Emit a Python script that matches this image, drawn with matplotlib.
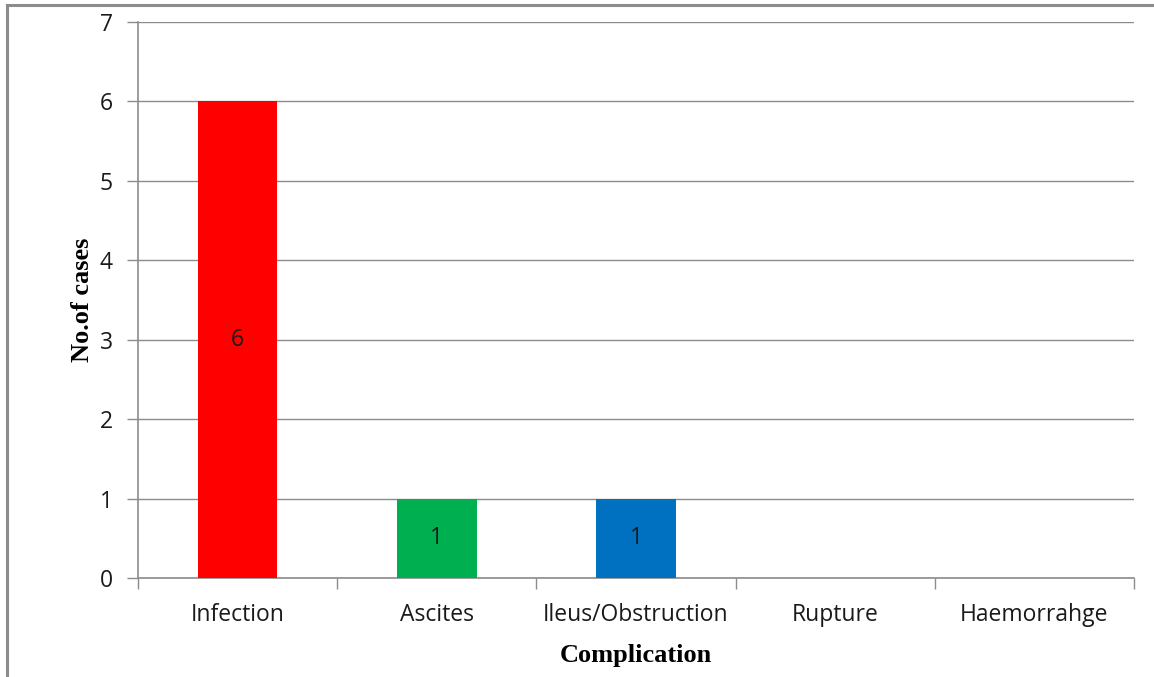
import numpy as np
import matplotlib.pyplot as plt
from matplotlib.lines import Line2D

categories = ["Infection", "Ascites", "Ileus/Obstruction", "Rupture", "Haemorrahge"]
cases = [6, 1, 1, 0, 0]
colors = ["#FF0000", "#00B050", "#0070C0", "#4F81BD", "#4F81BD"]

fig = plt.figure(figsize=(11.54, 6.77), dpi=100)
ax = fig.add_axes([138 / 1154, 1 - 578 / 677, (1134 - 138) / 1154, (578 - 22) / 677])

x = np.arange(len(categories))
for xi, v, c in zip(x, cases, colors):
    if v > 0:
        ax.bar(xi, v, width=0.4, color=c, zorder=3)
        ax.text(xi, v / 2, str(v), ha="center", va="center", fontsize=16.5,
                family="Open Sans", color="#1a1a1a", zorder=4)

ax.set_xlim(-0.5, len(categories) - 0.5)
ax.set_ylim(0, 7)
ax.set_yticks(range(0, 8))
ax.yaxis.grid(True, color="#8c8c8c", linewidth=1, zorder=0)
ax.set_axisbelow(True)

ax.set_xticks(x)
ax.set_xticklabels(categories)
ax.set_xticks(np.arange(-0.5, len(categories)), minor=True)
ax.tick_params(axis="x", which="major", length=0, pad=18)
ax.tick_params(axis="x", which="minor", length=8, color="#8c8c8c", width=1)
ax.tick_params(axis="y", length=8, color="#8c8c8c", width=1, pad=10)
for lab in ax.get_xticklabels() + ax.get_yticklabels():
    lab.set_family("Open Sans")
    lab.set_fontsize(16.5)
    lab.set_color("#1a1a1a")

for s in ["top", "right"]:
    ax.spines[s].set_visible(False)
for s in ["left", "bottom"]:
    ax.spines[s].set_color("#8c8c8c")
    ax.spines[s].set_linewidth(1.2)

ax.set_xlabel("Complication", family="Liberation Serif", fontweight="bold",
              fontsize=19, labelpad=12)
ax.set_ylabel("No.of cases", family="Liberation Serif", fontweight="bold",
              fontsize=19, labelpad=4)

# outer frame (cropped: only left and top edges visible)
fig.add_artist(Line2D([7 / 1154, 7 / 1154], [0, 1 - 5 / 677], color="#8c8c8c", linewidth=2.2))
fig.add_artist(Line2D([7 / 1154, 1], [1 - 5 / 677, 1 - 5 / 677], color="#8c8c8c", linewidth=2.2))

fig.savefig("out.png", dpi=100, facecolor="white")
